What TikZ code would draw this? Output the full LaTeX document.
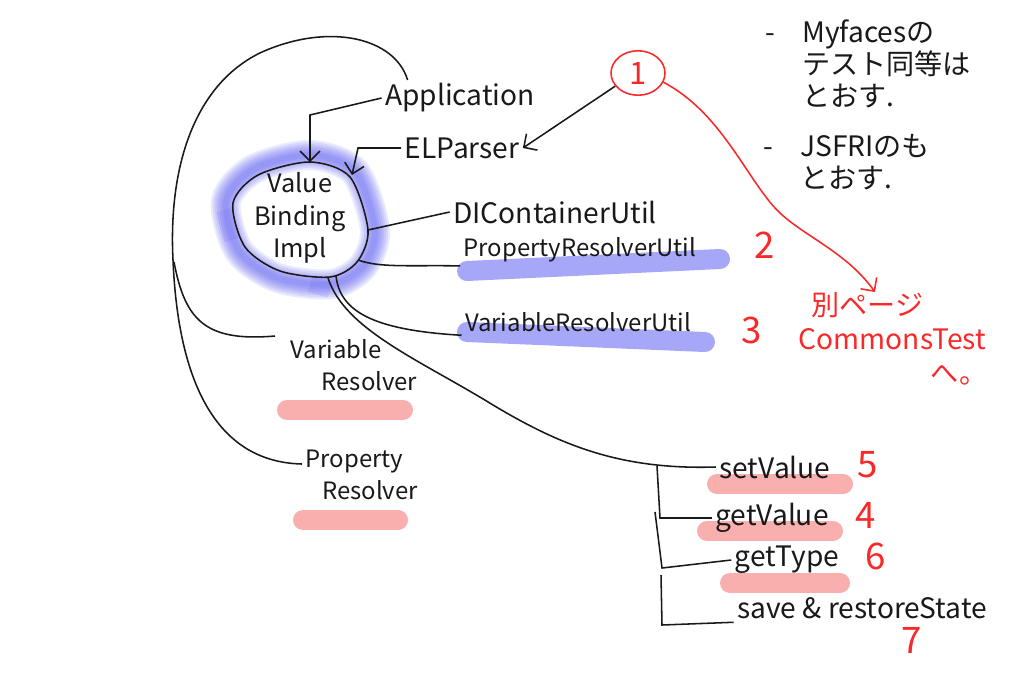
\documentclass[tikz,border=0pt]{standalone}
\usepackage{fontspec}
\setmainfont{Noto Sans CJK JP}
\usepackage{tikz}
\usetikzlibrary{arrows.meta,shapes.geometric}

\definecolor{pen}{RGB}{25,25,25}
\definecolor{redpen}{RGB}{250,40,40}
\definecolor{hlblue}{RGB}{80,80,240}
\definecolor{hlred}{RGB}{245,95,95}

\tikzset{
  lbl/.style={font=\fontsize{20}{24}\selectfont, inner sep=2pt},
  small/.style={font=\fontsize{17}{23}\selectfont, inner sep=2pt},
  num/.style={text=redpen, font=\fontsize{26}{28}\selectfont},
  note/.style={font=\fontsize{20}{23}\selectfont, align=left, inner sep=0pt},
  blueline/.style={draw=hlblue, line width=0.5cm, opacity=0.5, line cap=round},
  redline/.style={draw=hlred, line width=0.5cm, opacity=0.5, line cap=round},
  halo/.style={draw=hlblue, line width=#1, opacity=0.12},
}

\begin{document}
\begin{tikzpicture}[x=0.025cm, y=-0.025cm, color=pen, line width=1.1pt,
    >={Straight Barb[length=7pt,width=14pt]}]
      \useasboundingbox (0,0) rectangle (1024,692);

      % marker strokes
      \draw[blueline] (467,271) -- (720,259);
      \draw[blueline] (467,332) -- (705,342);
      \draw[redline] (287,410) -- (403,410);
      \draw[redline] (303,520) -- (398,520);
      \draw[redline] (717,484) -- (843,484);
      \draw[redline] (707,531) -- (833,531);
      \draw[redline] (730,583) -- (840,583);
      \foreach \w in {0.75cm,0.65cm,0.55cm,0.45cm,0.35cm,0.25cm,0.15cm}
        \draw[halo=\w] plot[smooth cycle] coordinates {(226,201) (254,169) (310,155) (355,172)
          (375,230) (363,266) (332,284) (278,278) (239,251)};
      \draw[halo=0.4cm] (224,210) -- (232,240);
      \draw[halo=0.4cm] (310,284) -- (330,290);

      \draw plot[smooth cycle] coordinates {(233,203) (258,175) (310,162) (350,177)
          (368,230) (357,262) (330,277) (280,271) (245,247)};
      \coordinate (ctop) at (310,162);
      \coordinate (cne) at (352,175);
      \coordinate (ce) at (368,230);
      \coordinate (cse) at (358,260);
      \coordinate (cs1) at (328,278);
      \coordinate (cs2) at (336,276);

      \node[lbl, align=center, font=\fontsize{18}{23}\selectfont] (vbi) at (300,218) {Value\\Binding\\Impl};
      \node[lbl] (app) at (460,98) {Application};
      \node[lbl] (elp) at (462,148) {ELParser};
      \node[lbl] (dic) at (555,212) {DIContainerUtil};
      \node[small] (pru) at (580,250) {PropertyResolverUtil};
      \node[small] (vru) at (578,322) {VariableResolverUtil};
      \node[small, align=left, anchor=north west] (vr) at (287,336) {Variable\\\hspace*{1.3em}Resolver};
      \node[small, align=left, anchor=north west] (pr) at (302,446) {Property\\\hspace*{0.7em}Resolver};

      \node[lbl] (sv) at (775,467) {setValue};
      \node[lbl] (gv) at (772,518) {getValue};
      \node[lbl] (gt) at (787,560) {getType};
      \node[lbl] (srs) at (862,608) {save \& restoreState};

      \node[draw=redpen, ellipse, minimum width=1.35cm, minimum height=1.1cm,
        text=redpen, font=\fontsize{22}{24}\selectfont] (one) at (638,73) {1};
      \node[num] (n2) at (765,245) {2};
      \node[num] (n3) at (752,330) {3};
      \node[num] (n5) at (868,465) {5};
      \node[num] (n4) at (866,515) {4};
      \node[num] (n6) at (876,556) {6};
      \node[num] (n7) at (912,640) {7};

      \node[note, anchor=west] (my) at (765,64)
        {\makebox[1.3em][l]{-}Myfacesの\\\hspace*{1.3em}テスト同等は\\\hspace*{1.3em}とおす.};
      \node[note, anchor=west] (jsf) at (763,162)
        {\makebox[1.3em][l]{-}JSFRIのも\\\hspace*{1.3em}とおす.};
      \node[note, text=redpen, anchor=north west, font=\fontsize{20}{24}\selectfont] (rn) at (798,292)
        {\hspace*{9pt}別ページ\\CommonsTest\\\hspace*{94pt}へ。};

      % connectors
      \draw ([xshift=0.65cm]app.north west) .. controls (395,38) and (330,22) .. (262,52)
        .. controls (198,82) and (168,160) .. (173,260)
        .. controls (178,380) and (215,462) .. ([yshift=-0.45cm]pr.north west);
      \coordinate (fork) at (174,262);
      \draw (fork) .. controls (185,320) and (205,342) .. ([xshift=-0.3cm]vr.north west);

      \draw[->] (app.west) -- (310,115) -- (ctop);
      \draw[->] (elp.west) -- (358,148) -- (cne);
      \draw[->] (one.210) -- (elp.east);
      \draw[->, redpen] (one.-20) .. controls (720,112) and (745,175) .. (775,208)
        .. controls (800,235) and (845,250) .. ([xshift=-0.45cm]rn.north);

      \draw (ce) -- (dic.west);
      \draw (cse) .. controls (380,268) and (410,265) .. (pru.south west);
      \draw (cs2) .. controls (340,310) and (370,330) .. (vru.south west);
      \draw (cs1) .. controls (345,330) and (420,360) .. (493,405)
        .. controls (560,445) and (620,470) .. (sv.west);

      \coordinate (fork2) at (657,466);
      \coordinate (fork3) at (655,512);
      \coordinate (fork4) at (661,575);
      \draw (fork2) -- (660,518) -- (gv.west);
      \draw (fork3) -- (662,568) -- (gt.west);
      \draw (fork4) -- (662,625) -- (srs.south west);
    \end{tikzpicture}
\end{document}
